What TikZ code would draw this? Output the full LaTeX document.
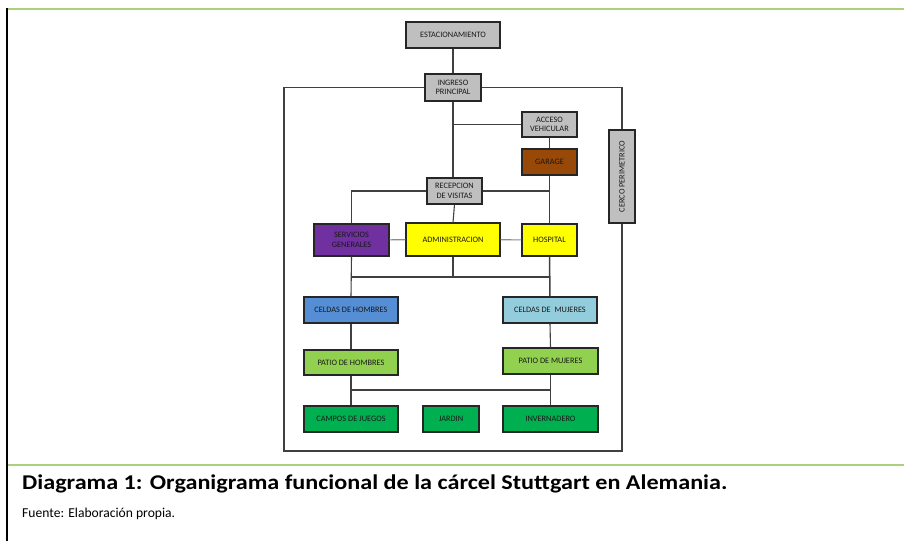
\documentclass[tikz,border=0pt]{standalone}
\usepackage{fontspec}
\setmainfont{Carlito}
\usetikzlibrary{shadows}
\definecolor{boxgray}{HTML}{BFBFBF}
\definecolor{brownbox}{HTML}{984807}
\definecolor{purplebox}{HTML}{7030A0}
\definecolor{yellowbox}{HTML}{FFFF00}
\definecolor{bluebox}{HTML}{558ED5}
\definecolor{lightbluebox}{HTML}{93CDDD}
\definecolor{lightgreenbox}{HTML}{92D050}
\definecolor{greenbox}{HTML}{00B050}
\definecolor{rulegreen}{HTML}{ADCF80}
\newcommand\boxfont{\fontsize{8.3bp}{9.6bp}\selectfont}
\tikzset{
  box/.style={draw=black!85, line width=1.1bp, inner sep=1bp, align=center,
    font=\boxfont, text=black!90,
    drop shadow={shadow xshift=1.2bp, shadow yshift=-1.2bp, fill=black!35, opacity=0.6}},
  conn/.style={draw=black!75, line width=1.1bp},
  lightconn/.style={draw=black!45, line width=1.1bp},
}
\begin{document}
\begin{tikzpicture}[x=1bp,y=-1bp]
\useasboundingbox (0,0) rectangle (904,541);
\fill[white] (0,0) rectangle (904,541);
% page rules
\draw[rulegreen, line width=2bp] (6,9.5) -- (904,9.5);
\draw[rulegreen, line width=1.8bp] (6,465) -- (904,465);
\draw[black, line width=2bp] (6.5,8.5) -- (6.5,541);
% nodes
\node[box, fill=boxgray, minimum width=94bp, minimum height=26bp] (est) at (453,35) {ESTACIONAMIENTO};
\node[box, fill=boxgray, minimum width=56bp, minimum height=27bp] (ing) at (453,87.5) {INGRESO\\PRINCIPAL};
\node[box, fill=boxgray, minimum width=55bp, minimum height=25bp] (acc) at (549.5,124.5) {ACCESO\\VEHICULAR};
\node[box, fill=brownbox, minimum width=55bp, minimum height=26bp] (gar) at (549.5,162) {GARAGE};
\node[box, fill=boxgray, minimum width=26bp, minimum height=93bp] (cer) at (622,176.5) {};
\node[font=\boxfont, text=black!90, rotate=90] (certxt) at (cer.center) {CERCO PERIMETRICO};
\node[box, fill=boxgray, minimum width=55bp, minimum height=26bp] (rec) at (454.5,191) {RECEPCION\\DE VISITAS};
\node[box, fill=purplebox, minimum width=75bp, minimum height=32bp] (ser) at (351.5,240) {SERVICIOS\\GENERALES};
\node[box, fill=yellowbox, minimum width=94bp, minimum height=33bp] (adm) at (453,239.5) {ADMINISTRACION};
\node[box, fill=yellowbox, minimum width=55bp, minimum height=32bp] (hos) at (549.5,240) {HOSPITAL};
\node[box, fill=bluebox, minimum width=94bp, minimum height=26bp] (ch) at (351,310) {CELDAS DE HOMBRES};
\node[box, fill=lightbluebox, minimum width=94bp, minimum height=26bp] (cm) at (550,310) {CELDAS DE\ \ MUJERES};
\node[box, fill=lightgreenbox, minimum width=94bp, minimum height=25bp] (ph) at (351,362.5) {PATIO DE HOMBRES};
\node[box, fill=lightgreenbox, minimum width=95bp, minimum height=26bp] (pm) at (550.5,361) {PATIO DE MUJERES};
\node[box, fill=greenbox, minimum width=94bp, minimum height=26bp] (cj) at (351,419) {CAMPOS DE JUEGOS};
\node[box, fill=greenbox, minimum width=56bp, minimum height=26bp] (jar) at (451,419) {JARDIN};
\node[box, fill=greenbox, minimum width=95bp, minimum height=26bp] (inv) at (550.5,419) {INVERNADERO};
% helper coordinates
\coordinate (pbl) at (284,451);
\coordinate (pbr) at (622,451);
\coordinate (bus1) at (0,277);
\coordinate (bus2) at (0,390);
% connectors
\draw[conn] (est) -- (ing);
\draw[conn] (ing.west) -| (pbl) -- (pbr) -- (cer.south);
\draw[conn] (ing.east) -| (cer.north);
\draw[conn] (ing.south) -- (ing.south |- rec.north);
\draw[conn] (ing.south |- acc.west) -- (acc.west);
\draw[conn] (acc) -- (gar);
\draw[conn] (gar.south) -- (hos.north);
\draw[conn] (rec.west) -| (ser.north);
\draw[conn] (rec.east) -- (rec.east -| hos.north);
\draw[conn] (rec.south) -- (adm.north);
\draw[lightconn] (ser) -- (adm);
\draw[lightconn] (adm) -- (hos);
\draw[conn] (ser.south) -- (ch.north);
\draw[conn] (adm.south) -- (adm.south |- bus1);
\draw[conn, line width=1.5bp] (ser.south |- bus1) -- (hos.south |- bus1);
\draw[conn, line width=1.5bp] (hos.south) -- (cm.north);
\draw[conn] (ch) -- (ph);
\draw[conn] (cm.south) -- (pm.north);
\draw[conn] (ph.south) -- (cj.north);
\draw[conn] (pm.south) -- (inv.north);
\draw[conn, line width=1.4bp] (ph.south |- bus2) -- (pm.south |- bus2);
% caption
\node[anchor=base west, inner sep=0pt, font=\fontsize{21bp}{25bp}\selectfont\bfseries] (cap1) at (22,489) {\scalebox{1.15}[1]{Diagrama 1: Organigrama funcional de la cárcel Stuttgart en Alemania.}};
\node[anchor=base west, inner sep=0pt, font=\fontsize{13.6bp}{16bp}\selectfont] (cap2) at (22,517) {Fuente: Elaboración propia.};
\end{tikzpicture}
\end{document}
